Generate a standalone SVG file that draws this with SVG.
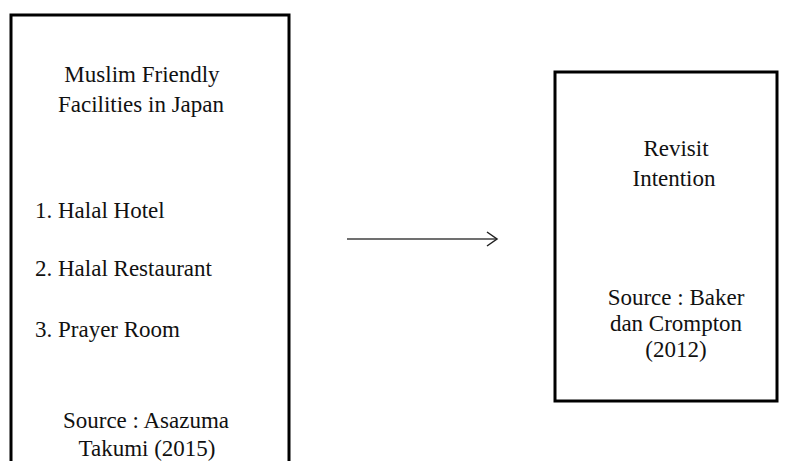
<svg xmlns="http://www.w3.org/2000/svg" width="790" height="461" viewBox="0 0 790 461">
<defs>
<style>
.box{fill:#fff;stroke:#000;stroke-width:3}
.t{font-family:"Liberation Serif","Times New Roman",serif;font-size:23px;fill:#111}
.c{text-anchor:middle}
.arrow{fill:none;stroke:#404040;stroke-width:1.6}
</style>
<marker id="head" markerWidth="14" markerHeight="18" refX="12" refY="9" orient="auto" markerUnits="userSpaceOnUse">
<path d="M2,2 L12,9 L2,16" fill="none" stroke="#202020" stroke-width="1.5"/>
</marker>
</defs>
<rect width="790" height="461" fill="#fff"/>
<g id="node-facilities">
<rect class="box" x="11" y="15" width="278" height="470"/>
<text class="t c" x="142" y="82">Muslim Friendly</text>
<text class="t c" x="141" y="112">Facilities in Japan</text>
<text class="t" x="35" y="218">1. Halal Hotel</text>
<text class="t" x="35" y="276">2. Halal Restaurant</text>
<text class="t" x="35" y="337">3. Prayer Room</text>
<text class="t c" x="146" y="428">Source : Asazuma</text>
<text class="t c" x="147" y="456">Takumi (2015)</text>
</g>
<g id="node-revisit">
<rect class="box" x="555" y="72" width="222" height="329"/>
<text class="t c" x="676" y="156">Revisit</text>
<text class="t c" x="674" y="186">Intention</text>
<text class="t c" x="676" y="305">Source : Baker</text>
<text class="t c" x="676" y="331">dan Crompton</text>
<text class="t c" x="676" y="357">(2012)</text>
</g>
<g id="connectors">
<line class="arrow" x1="347" y1="239" x2="497" y2="239" marker-end="url(#head)"/>
</g>
</svg>
